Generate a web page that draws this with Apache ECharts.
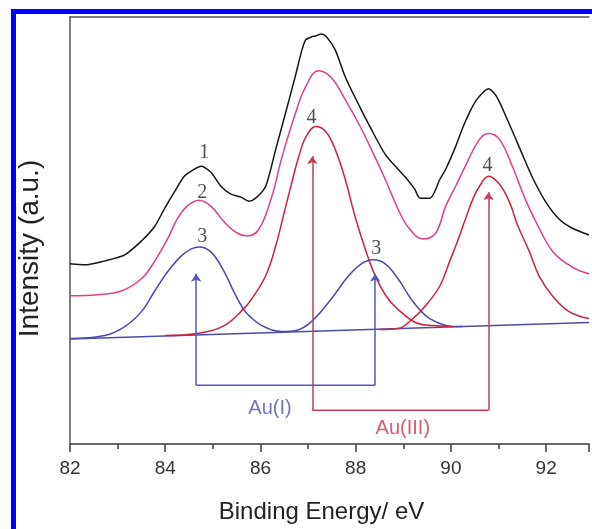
<!DOCTYPE html>
<html>
<head>
<meta charset="utf-8">
<script src="https://cdn.jsdelivr.net/npm/echarts/dist/echarts.min.js"></script>
<style>
  html, body { margin: 0; padding: 0; background: #fff; overflow: hidden; }
  #chart { position: absolute; left: 0; top: 0; width: 592px; height: 529px; }
  #frame { position: absolute; left: 11px; top: 9px; width: 640px; height: 600px;
           border-left: 5px solid #0000ff; border-top: 5px solid #0000ff; pointer-events: none; }
</style>
</head>
<body>
<div id="chart"></div>
<div id="frame"></div>
<script>
// binding energy (eV) / intensity (a.u.)
// 1 - experimental spectrum
const expX = [82.00, 82.31, 82.73, 83.15, 83.50, 83.77, 83.98, 84.19, 84.40, 84.57, 84.76, 84.96, 85.17, 85.38, 85.59, 85.76, 85.90, 86.11, 86.32, 86.53, 86.74, 86.86, 86.95, 87.07, 87.16, 87.28, 87.39, 87.57, 87.78, 88.03, 88.33, 88.62, 88.89, 89.08, 89.24, 89.35, 89.56, 89.77, 89.89, 90.10, 90.25, 90.39, 90.54, 90.79, 90.96, 91.23, 91.50, 91.71, 91.98, 92.27, 92.54, 92.90]
const expY = [181, 180, 184, 190, 204, 218, 236, 253, 269, 275, 279, 273, 259, 251, 248, 244, 247, 259, 296, 333, 371, 394, 406, 409, 410, 412, 409, 396, 369, 344, 316, 291, 276, 266, 256, 247, 247, 266, 276, 299, 318, 333, 346, 357, 349, 321, 291, 268, 244, 226, 217, 210]

// 2 - fitted envelope
const fitX = [82.00, 82.58, 83.09, 83.50, 83.77, 84.05, 84.25, 84.46, 84.71, 84.96, 85.24, 85.51, 85.72, 85.97, 86.24, 86.45, 86.74, 86.95, 87.22, 87.49, 87.78, 88.05, 88.33, 88.62, 88.89, 89.10, 89.41, 89.68, 89.89, 90.12, 90.25, 90.60, 90.79, 91.02, 91.29, 91.56, 91.81, 92.13, 92.54, 92.90]
const fitY = [149, 150, 154, 166, 183, 206, 226, 239, 245, 239, 223, 212, 209, 216, 249, 288, 333, 359, 375, 368, 346, 323, 296, 266, 236, 218, 206, 212, 239, 261, 274, 306, 312, 306, 279, 246, 221, 194, 178, 171]

// 3 - Au(I) components
const au1X = [82.00, 82.73, 83.15, 83.50, 83.77, 84.05, 84.34, 84.55, 84.71, 84.96, 85.24, 85.44, 85.65, 85.76, 86.03, 86.45, 86.74, 87.07, 87.49, 87.85, 88.12, 88.37, 88.62, 88.89, 89.16, 89.47, 89.77, 90.04, 90.25]
const au1Y = [106, 109, 118, 133, 153, 173, 189, 196, 198, 193, 173, 153, 135, 129, 119, 113, 114, 123, 146, 169, 181, 185, 181, 166, 146, 129, 121, 118, 118]

// 4 - Au(III) components
const au3aX = [84.00, 84.67, 85.24, 85.65, 85.82, 86.11, 86.32, 86.49, 86.66, 86.80, 86.95, 87.16, 87.37, 87.57, 87.78, 87.99, 88.20, 88.41, 88.68, 89.04, 89.31, 89.62, 90.04]
const au3aY = [109, 111, 119, 136, 146, 169, 199, 231, 263, 288, 308, 319, 314, 296, 266, 228, 196, 169, 146, 129, 121, 119, 118]
const au3bX = [88.50, 88.89, 89.20, 89.47, 89.77, 89.97, 90.18, 90.29, 90.46, 90.60, 90.79, 91.02, 91.23, 91.39, 91.65, 91.85, 92.13, 92.48, 92.90]
const au3bY = [115, 116, 126, 139, 159, 183, 209, 224, 246, 259, 269, 261, 243, 221, 193, 169, 149, 133, 126]

// background line
const baseX = [82.0, 92.9]
const baseY = [105.5, 122]

// curve numbers
const numX = [84.82, 84.78, 84.78, 88.43, 87.07, 90.77]
const numY = [293, 252, 208, 196, 328, 280]
const numText = ['1', '2', '3', '3', '4', '4']

// Au(I) / Au(III) brackets
const au1ArrowX = [84.65, 88.41]
const au1ArrowTop = [171, 171]
const au1ArrowBottom = 59
const au3ArrowX = [87.09, 90.79]
const au3ArrowTop = [289, 253]
const au3ArrowBottom = 34
const tagX = [86.20, 88.99]
const tagY = [36, 16]
const tagText = ['Au(I)', 'Au(III)']

const zip = (xs, ys) => xs.map((x, i) => [x, ys[i]])

const blue = '#4b4baa'
const red = '#c8243e'
const sans = 'Liberation Sans'

function curve(name, xs, ys, color, smooth) {
  return {
    name: name,
    type: 'line',
    data: zip(xs, ys),
    showSymbol: false,
    smooth: smooth,
    lineStyle: { color: color, width: 1.5 },
    silent: true
  }
}

function bracket(xs, tops, bottom, color) {
  return {
    type: 'line',
    data: [[xs[0], bottom], [xs[1], bottom]],
    showSymbol: false,
    lineStyle: { color: color, width: 1.5 },
    silent: true,
    markLine: {
      silent: true,
      symbol: ['none', 'arrow'],
      symbolSize: 8,
      label: { show: false },
      lineStyle: { color: color, width: 1.5, type: 'solid' },
      data: xs.map((x, i) => [{ coord: [x, bottom] }, { coord: [x, tops[i]] }])
    }
  }
}

const chart = echarts.init(document.getElementById('chart'))
chart.setOption({
  animation: false,
  backgroundColor: '#fff',
  grid: { left: 70, top: 17, right: 0, bottom: 83 },
  xAxis: [{
    type: 'value',
    min: 82,
    max: 92.9,
    interval: 2,
    name: 'Binding Energy/ eV',
    nameLocation: 'middle',
    nameGap: 56,
    nameTextStyle: { fontFamily: sans, fontSize: 24, color: '#222', padding: [0, 16, 0, 0] },
    axisLine: { lineStyle: { color: '#3a3a3a', width: 1.5 } },
    axisTick: { inside: false, length: 8, lineStyle: { color: '#3a3a3a', width: 1.5 } },
    minorTick: { show: true, splitNumber: 2, length: 5, lineStyle: { color: '#3a3a3a', width: 1.5 } },
    axisLabel: { fontFamily: sans, fontSize: 19, color: '#333', margin: 15,
      formatter: v => (v % 2 === 0 ? String(v) : '') },
    splitLine: { show: false }
  }, {
    type: 'value',
    position: 'top',
    min: 82,
    max: 92.9,
    axisLine: { lineStyle: { color: '#555', width: 1.5 } },
    axisTick: { show: false },
    axisLabel: { show: false },
    splitLine: { show: false }
  }],
  yAxis: {
    type: 'value',
    min: 0,
    max: 429,
    name: 'Intensity (a.u.)',
    nameLocation: 'middle',
    nameGap: 26,
    nameTextStyle: { fontFamily: sans, fontSize: 28, color: '#222', padding: [0, 36, 0, 0] },
    axisLine: { show: true, lineStyle: { color: '#555', width: 1.5 } },
    axisTick: { show: false },
    axisLabel: { show: false },
    splitLine: { show: false }
  },
  series: [
    curve('background', baseX, baseY, blue, false),
    curve('Au(I)', au1X, au1Y, blue, 0.4),
    curve('Au(III) a', au3aX, au3aY, red, 0.4),
    curve('Au(III) b', au3bX, au3bY, red, 0.4),
    curve('fit', fitX, fitY, '#dd3f8e', 0.4),
    curve('experiment', expX, expY, '#161616', 0.25),
    bracket(au1ArrowX, au1ArrowTop, au1ArrowBottom, '#5656c0'),
    bracket(au3ArrowX, au3ArrowTop, au3ArrowBottom, '#c83a55'),
    {
      type: 'scatter',
      symbolSize: 1,
      itemStyle: { color: 'rgba(0,0,0,0)' },
      silent: true,
      label: { show: true, position: 'inside', formatter: '{b}',
        fontFamily: 'Liberation Serif', fontSize: 20, color: '#222' },
      data: numText.map((t, i) => ({ name: t, value: [numX[i], numY[i]] }))
    },
    {
      type: 'scatter',
      symbolSize: 1,
      itemStyle: { color: 'rgba(0,0,0,0)' },
      silent: true,
      label: { show: true, position: 'inside', formatter: '{b}', fontFamily: sans, fontSize: 20 },
      data: tagText.map((t, i) => ({
        name: t,
        value: [tagX[i], tagY[i]],
        label: { color: i === 0 ? '#5050b4' : '#c8344f' }
      }))
    }
  ]
})
</script>
</body>
</html>
